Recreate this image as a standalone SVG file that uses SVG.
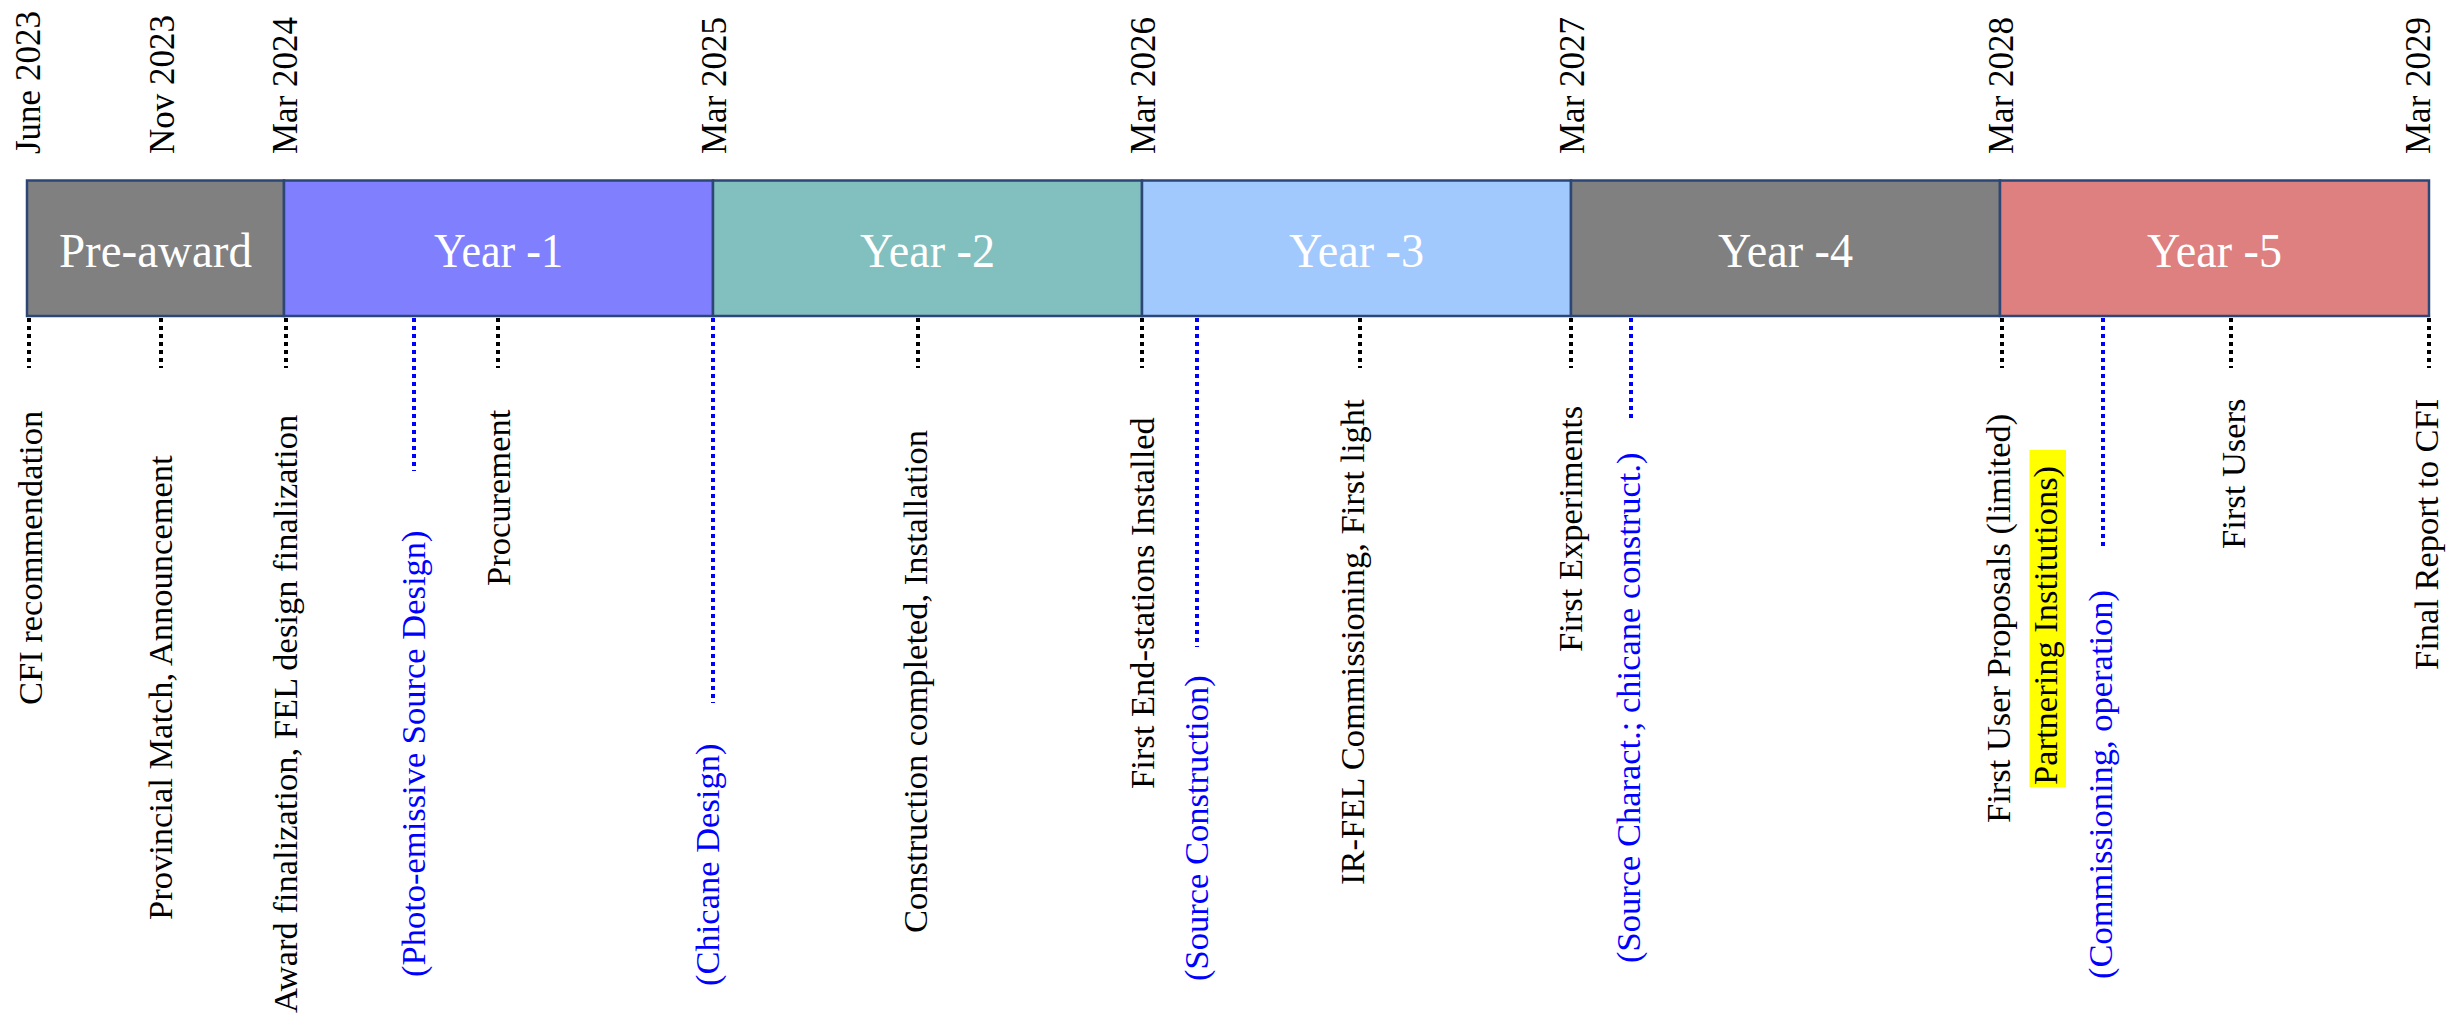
<svg xmlns="http://www.w3.org/2000/svg" width="2463" height="1017" viewBox="0 0 2463 1017">
<defs>
<style>
.seg{stroke:#2c4675;stroke-width:2.5}
.yl{font-family:"Liberation Serif","Times New Roman",serif;font-size:48px;fill:#ffffff;text-anchor:middle}
.date{font-family:"Liberation Serif","Times New Roman",serif;font-size:35px;fill:#000000}
.ms{font-family:"Liberation Serif","Times New Roman",serif;font-size:34.5px;fill:#000000}
.msb{font-family:"Liberation Serif","Times New Roman",serif;font-size:34.5px;fill:#0000ff}
.tk{stroke:#000000;stroke-width:4;stroke-dasharray:4 4;fill:none}
.tkb{stroke:#0000ff;stroke-width:4;stroke-dasharray:4 4;fill:none}
</style>
</defs>
<rect width="2463" height="1017" fill="#ffffff"/>

<g id="seg-preaward"><rect class="seg" x="27" y="180.5" width="257" height="135.5" fill="#808080"/><text class="yl" x="155.5" y="267" textLength="193" lengthAdjust="spacingAndGlyphs">Pre-award</text></g>
<g id="seg-year1"><rect class="seg" x="284" y="180.5" width="429" height="135.5" fill="#8080ff"/><text class="yl" x="498.5" y="267" textLength="129" lengthAdjust="spacingAndGlyphs">Year -1</text></g>
<g id="seg-year2"><rect class="seg" x="713" y="180.5" width="429" height="135.5" fill="#82bfbf"/><text class="yl" x="927.5" y="267" textLength="135" lengthAdjust="spacingAndGlyphs">Year -2</text></g>
<g id="seg-year3"><rect class="seg" x="1142" y="180.5" width="429" height="135.5" fill="#a2c9fd"/><text class="yl" x="1356.5" y="267" textLength="135" lengthAdjust="spacingAndGlyphs">Year -3</text></g>
<g id="seg-year4"><rect class="seg" x="1571" y="180.5" width="429" height="135.5" fill="#808080"/><text class="yl" x="1785.5" y="267" textLength="135" lengthAdjust="spacingAndGlyphs">Year -4</text></g>
<g id="seg-year5"><rect class="seg" x="2000" y="180.5" width="429" height="135.5" fill="#de8080"/><text class="yl" x="2214.5" y="267" textLength="135" lengthAdjust="spacingAndGlyphs">Year -5</text></g>

<g id="dates">
<text class="date" transform="translate(40,154) rotate(-90)">June 2023</text>
<text class="date" transform="translate(174,154) rotate(-90)">Nov 2023</text>
<text class="date" transform="translate(297,154) rotate(-90)">Mar 2024</text>
<text class="date" transform="translate(726,154) rotate(-90)">Mar 2025</text>
<text class="date" transform="translate(1155,154) rotate(-90)">Mar 2026</text>
<text class="date" transform="translate(1584,154) rotate(-90)">Mar 2027</text>
<text class="date" transform="translate(2013,154) rotate(-90)">Mar 2028</text>
<text class="date" transform="translate(2430,154) rotate(-90)">Mar 2029</text>
</g>

<g id="connectors">
<line class="tk" x1="29" y1="318" x2="29" y2="368"/>
<line class="tk" x1="161" y1="318" x2="161" y2="368"/>
<line class="tk" x1="286" y1="318" x2="286" y2="368"/>
<line class="tkb" x1="414" y1="318" x2="414" y2="471"/>
<line class="tk" x1="498" y1="318" x2="498" y2="368"/>
<line class="tkb" x1="713" y1="318" x2="713" y2="703"/>
<line class="tk" x1="918" y1="318" x2="918" y2="368"/>
<line class="tk" x1="1142" y1="318" x2="1142" y2="368"/>
<line class="tkb" x1="1197" y1="318" x2="1197" y2="647"/>
<line class="tk" x1="1360" y1="318" x2="1360" y2="368"/>
<line class="tk" x1="1571" y1="318" x2="1571" y2="368"/>
<line class="tkb" x1="1631" y1="318" x2="1631" y2="419"/>
<line class="tk" x1="2002" y1="318" x2="2002" y2="368"/>
<line class="tkb" x1="2103" y1="318" x2="2103" y2="547"/>
<line class="tk" x1="2231" y1="318" x2="2231" y2="368"/>
<line class="tk" x1="2429" y1="318" x2="2429" y2="368"/>
</g>

<g id="milestones">
<text class="ms" transform="translate(42,705) rotate(-90)">CFI recommendation</text>
<text class="ms" transform="translate(172,920) rotate(-90)">Provincial Match, Announcement</text>
<text class="ms" transform="translate(297,1013) rotate(-90)">Award finalization, FEL design finalization</text>
<text class="msb" transform="translate(425,977) rotate(-90)">(Photo-emissive Source Design)</text>
<text class="ms" transform="translate(510,586) rotate(-90)">Procurement</text>
<text class="msb" transform="translate(719,986) rotate(-90)">(Chicane Design)</text>
<text class="ms" transform="translate(927,933) rotate(-90)">Construction completed, Installation</text>
<text class="ms" transform="translate(1154,789) rotate(-90)">First End-stations Installed</text>
<text class="msb" transform="translate(1208,981) rotate(-90)">(Source Construction)</text>
<text class="ms" transform="translate(1364,885) rotate(-90)">IR-FEL Commissioning, First light</text>
<text class="ms" transform="translate(1582,652) rotate(-90)">First Experiments</text>
<text class="msb" transform="translate(1640,963) rotate(-90)">(Source Charact.; chicane construct.)</text>
<text class="ms" transform="translate(2010,823) rotate(-90)">First User Proposals (limited)</text>
<rect x="2029.5" y="450" width="36.5" height="337" fill="#ffff00"/>
<text class="ms" transform="translate(2057,785) rotate(-90)">Partnering Institutions)</text>
<text class="msb" transform="translate(2112,979) rotate(-90)">(Commissioning, operation)</text>
<text class="ms" transform="translate(2245,549) rotate(-90)">First Users</text>
<text class="ms" transform="translate(2438,670) rotate(-90)">Final Report to CFI</text>
</g>
</svg>
